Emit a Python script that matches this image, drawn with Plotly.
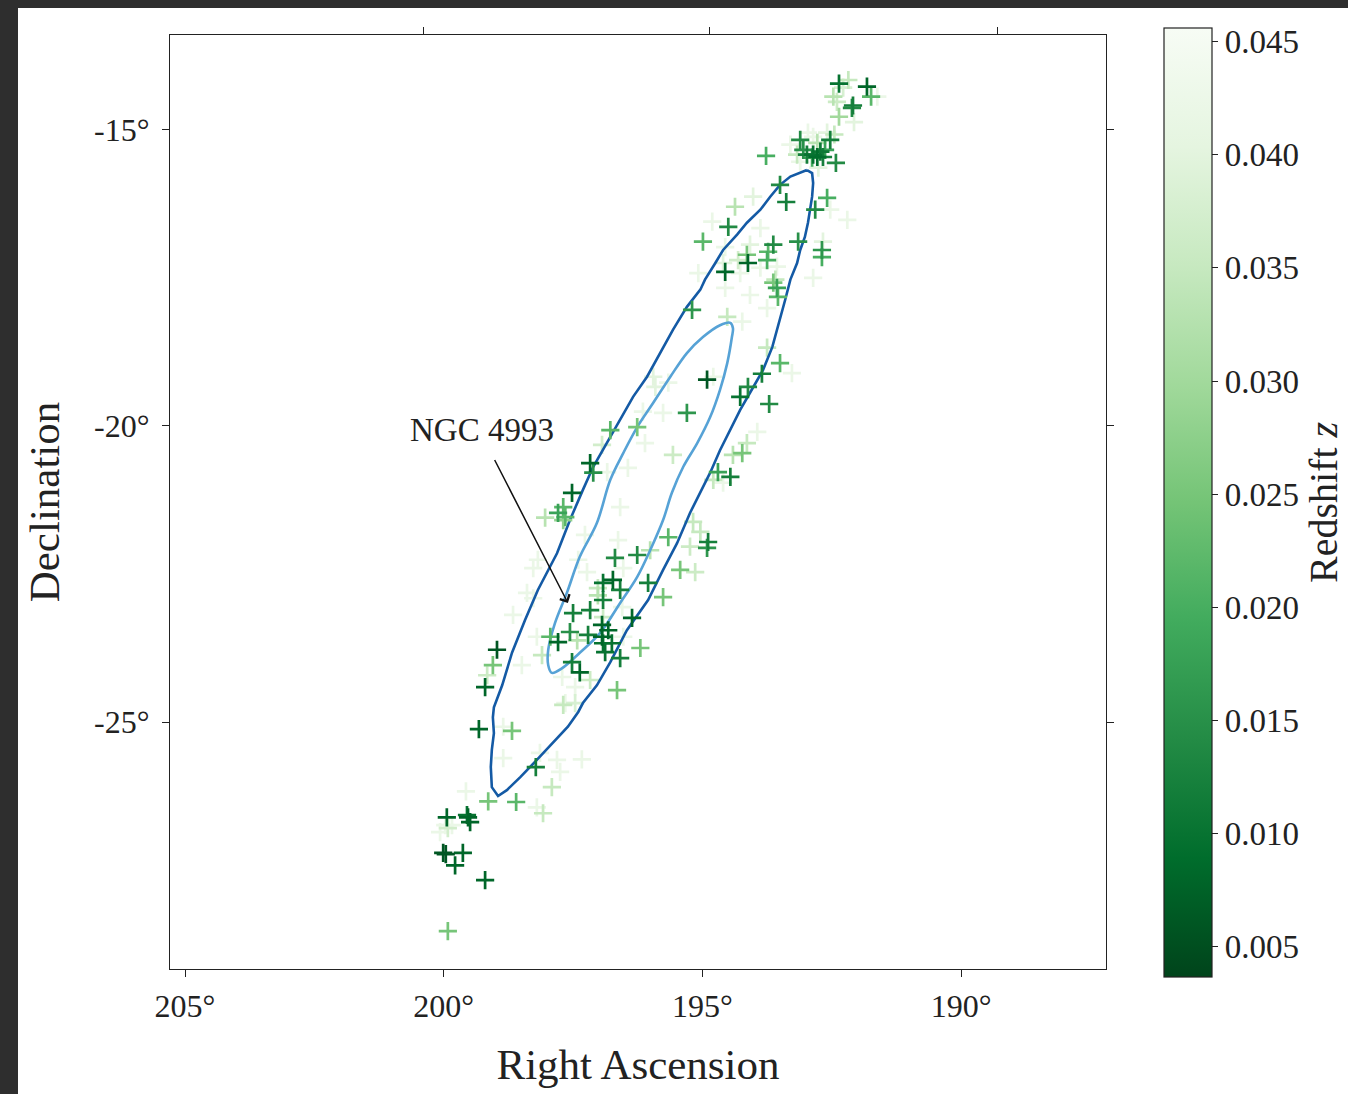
import numpy as np
import plotly.graph_objects as go

# ---- galaxy catalogue (RA deg, Dec deg, redshift) ----
ra = [192.36, 192.18, 192.28, 191.82, 191.74, 191.62, 192.47, 192.40, 192.09, 192.11,
      192.36, 192.07, 192.45, 193.11, 192.78, 192.96, 192.86, 192.59, 192.53, 193.30,
      193.05, 192.98, 192.86, 192.72, 192.67, 192.78, 192.63, 192.42, 192.88, 193.17,
      193.11, 192.76, 193.77, 193.50, 193.38, 194.02, 194.37, 192.59, 192.82, 192.53,
      192.20, 194.81, 194.50, 194.99, 194.56, 194.08, 193.88, 193.63, 193.15, 192.69,
      192.67, 192.69, 194.14, 194.12, 193.75, 193.73, 194.31, 194.27, 193.88, 193.59,
      194.56, 195.08, 192.86, 193.56, 194.60, 195.20, 194.52, 194.23, 193.63, 193.56,
      193.54, 194.56, 194.08, 193.75, 193.75, 193.50, 193.27, 193.85, 194.12, 194.27,
      193.71, 194.91, 194.79, 195.95, 195.91, 195.66, 195.30, 196.15, 195.76, 196.78,
      196.26, 196.11, 196.94, 193.94, 194.14, 194.23, 194.41, 195.57, 196.44, 197.17,
      197.11, 196.84, 197.52, 194.70, 194.46, 194.79, 194.60, 197.69, 198.04, 197.79,
      197.65, 197.69, 196.59, 197.27, 196.63, 195.66, 195.18, 195.04, 194.89, 194.91,
      195.24, 196.01, 196.26, 196.69, 197.40, 196.53, 197.23, 195.43, 195.14, 198.27,
      198.18, 196.73, 196.92, 197.02, 196.59, 196.05, 195.76, 196.92, 197.02, 198.39,
      198.27, 197.50, 197.17, 198.66, 196.92, 196.36, 196.55, 197.56, 197.21, 196.94,
      196.82, 197.42, 197.79, 197.94, 196.94, 196.92, 196.75, 196.88, 196.59, 196.20,
      196.53, 198.20, 198.49, 198.10, 198.97, 199.05, 199.16, 199.20, 197.52, 197.37,
      197.17, 197.71, 197.46, 196.65, 197.65, 199.32, 198.68, 198.85, 198.85, 197.69,
      197.46, 198.22, 198.14, 197.81, 197.33, 197.75, 197.91, 199.57, 199.14, 198.60,
      198.20, 198.08, 199.94, 199.53, 199.49, 199.55, 199.97, 199.84, 200.07, 199.92,
      200.01, 199.96, 199.63, 199.78, 199.20, 199.92]
dec = [-14.22, -14.16, -14.29, -14.27, -14.44, -14.44, -14.44, -14.53, -14.59, -14.63,
       -14.78, -14.87, -15.08, -15.17, -15.22, -15.05, -15.12, -15.05, -15.17, -15.25,
       -15.34, -15.42, -15.42, -15.37, -15.46, -15.46, -15.34, -15.56, -15.47, -15.42,
       -15.54, -15.64, -15.44, -15.93, -16.22, -16.13, -16.30, -16.15, -16.35, -16.35,
       -16.52, -16.55, -16.64, -16.89, -16.98, -16.94, -16.66, -16.94, -16.89, -17.03,
       -16.89, -17.15, -17.11, -17.25, -17.20, -17.06, -17.20, -17.42, -17.33, -17.53,
       -17.40, -17.42, -17.50, -17.31, -17.25, -18.04, -18.16, -18.24, -17.58, -17.67,
       -17.82, -17.67, -17.79, -18.01, -18.68, -18.94, -19.11, -19.12, -19.34, -19.51,
       -19.63, -19.22, -19.17, -19.17, -19.34, -19.27, -19.78, -19.76, -19.78, -20.07,
       -20.02, -20.29, -20.32, -20.10, -20.29, -20.46, -20.49, -20.49, -20.71, -20.63,
       -20.79, -20.78, -21.13, -20.78, -20.86, -20.91, -20.96, -21.37, -21.55, -21.47,
       -21.54, -21.59, -21.37, -21.84, -21.93, -21.88, -21.62, -21.79, -21.96, -22.06,
       -22.04, -22.10, -22.18, -22.23, -22.26, -22.40, -22.47, -22.43, -22.47, -22.40,
       -22.26, -22.60, -22.65, -22.74, -22.77, -22.65, -22.89, -22.94, -22.86, -22.82,
       -22.91, -23.16, -23.11, -23.19, -23.23, -23.24, -23.06, -23.48, -23.53, -23.36,
       -23.45, -23.62, -23.65, -23.56, -23.56, -23.67, -23.67, -23.82, -23.92, -23.75,
       -23.56, -23.56, -24.04, -23.87, -23.78, -24.04, -24.21, -24.41, -23.99, -24.16,
       -24.29, -24.24, -24.41, -24.46, -24.68, -25.12, -25.15, -25.08, -25.61, -24.71,
       -24.68, -25.76, -25.52, -25.64, -25.63, -25.84, -26.10, -26.17, -26.34, -26.35,
       -26.44, -26.54, -26.61, -26.61, -26.69, -26.57, -26.74, -26.74, -26.86, -26.79,
       -27.21, -27.23, -27.21, -27.42, -27.67, -28.53]
redshift = [0.010, 0.035, 0.038, 0.008, 0.022, 0.042, 0.033, 0.036, 0.012, 0.014,
            0.030, 0.040, 0.035, 0.014, 0.033, 0.042, 0.042, 0.040, 0.012, 0.042,
            0.015, 0.012, 0.010, 0.011, 0.012, 0.009, 0.018, 0.014, 0.020, 0.035,
            0.042, 0.040, 0.020, 0.014, 0.012, 0.040, 0.033, 0.020, 0.014, 0.042,
            0.042, 0.042, 0.014, 0.022, 0.042, 0.040, 0.042, 0.014, 0.015, 0.016,
            0.040, 0.020, 0.025, 0.008, 0.020, 0.022, 0.037, 0.042, 0.042, 0.035,
            0.008, 0.042, 0.042, 0.042, 0.040, 0.016, 0.035, 0.042, 0.025, 0.018,
            0.022, 0.042, 0.042, 0.042, 0.035, 0.022, 0.042, 0.012, 0.014, 0.010,
            0.014, 0.006, 0.042, 0.040, 0.040, 0.042, 0.016, 0.042, 0.042, 0.022,
            0.025, 0.042, 0.037, 0.042, 0.035, 0.025, 0.033, 0.036, 0.042, 0.008,
            0.015, 0.042, 0.008, 0.018, 0.012, 0.035, 0.042, 0.022, 0.033, 0.018,
            0.022, 0.028, 0.042, 0.042, 0.042, 0.022, 0.035, 0.035, 0.012, 0.016,
            0.036, 0.033, 0.014, 0.014, 0.042, 0.042, 0.042, 0.025, 0.036, 0.042,
            0.042, 0.008, 0.010, 0.035, 0.012, 0.012, 0.025, 0.012, 0.033, 0.042,
            0.042, 0.012, 0.012, 0.042, 0.036, 0.008, 0.042, 0.015, 0.012, 0.008,
            0.008, 0.033, 0.008, 0.022, 0.008, 0.010, 0.010, 0.010, 0.012, 0.025,
            0.042, 0.042, 0.042, 0.035, 0.006, 0.025, 0.036, 0.008, 0.012, 0.008,
            0.036, 0.042, 0.042, 0.025, 0.042, 0.008, 0.025, 0.042, 0.042, 0.035,
            0.038, 0.012, 0.042, 0.042, 0.042, 0.042, 0.035, 0.042, 0.025, 0.022,
            0.042, 0.035, 0.008, 0.008, 0.008, 0.010, 0.042, 0.042, 0.042, 0.037,
            0.006, 0.006, 0.008, 0.008, 0.008, 0.025]

# ---- localisation contours (RA, Dec) ----
outer_ra = [192.98, 193.30, 193.50, 193.69, 193.88, 194.14, 194.33, 194.60, 194.75, 194.95,
            195.04, 195.30, 195.57, 195.82, 196.07, 196.34, 196.59, 196.84, 197.11, 197.31,
            197.56, 197.81, 198.18, 198.43, 198.68, 198.87, 199.03, 199.05, 199.03, 199.07,
            199.09, 199.07, 198.95, 198.78, 198.52, 198.20, 197.89, 197.60, 197.40, 197.31,
            197.04, 196.78, 196.46, 196.05, 195.76, 195.49, 195.24, 195.01, 194.85, 194.66,
            194.46, 194.27, 194.08, 193.83, 193.65, 193.54, 193.40, 193.30, 193.17, 193.11,
            193.02, 192.96, 192.92, 192.88, 192.86, 192.88, 192.98]
outer_dec = [-15.68, -15.79, -15.93, -16.13, -16.35, -16.57, -16.77, -17.03, -17.25, -17.53,
             -17.70, -17.99, -18.38, -18.77, -19.17, -19.51, -19.90, -20.29, -20.69, -21.08,
             -21.59, -22.15, -22.77, -23.28, -23.83, -24.38, -24.75, -24.92, -25.19, -25.47,
             -25.76, -26.10, -26.25, -26.15, -25.93, -25.64, -25.35, -25.08, -24.83, -24.68,
             -24.38, -23.99, -23.45, -22.94, -22.43, -21.98, -21.47, -21.08, -20.79, -20.41,
             -20.07, -19.73, -19.44, -19.06, -18.67, -18.33, -17.87, -17.53, -17.25, -17.03,
             -16.81, -16.57, -16.35, -16.13, -15.90, -15.73, -15.68]
inner_ra = [194.46, 194.66, 194.99, 195.30, 195.62, 195.95, 196.26, 196.53, 196.78, 197.04,
            197.37, 197.62, 197.85, 197.98, 197.98, 197.91, 197.71, 197.37, 196.98, 196.59,
            196.26, 196.01, 195.76, 195.59, 195.37, 195.10, 194.85, 194.66, 194.52, 194.43,
            194.41, 194.46]
inner_dec = [-18.26, -18.30, -18.50, -18.77, -19.17, -19.61, -20.02, -20.46, -20.91, -21.64,
             -22.21, -22.82, -23.33, -23.78, -24.04, -24.17, -24.09, -23.83, -23.50, -22.99,
             -22.55, -22.10, -21.59, -21.13, -20.69, -20.29, -19.85, -19.39, -18.94, -18.50,
             -18.35, -18.26]

# ---- axes / labels ----
x_range = [205.29, 187.20]
y_range = [-29.17, -13.40]
x_ticks = [205, 200, 195, 190]
x_ticktext = ["205°", "200°", "195°", "190°"]
x_top_ticks = [200.40, 194.87, 189.30]
y_ticks = [-15, -20, -25]
y_ticktext = ["-15°", "-20°", "-25°"]
cbar_ticks = [0.005, 0.010, 0.015, 0.020, 0.025, 0.030, 0.035, 0.040, 0.045]
z_min, z_max = 0.00367, 0.0456
light_split = 0.03
label_name = "NGC 4993"
label_pos = (199.26, -20.07)
arrow_tail = (199.03, -20.55)
arrow_head = (197.60, -22.99)

FONT = "Liberation Serif"
greens_r = [[0.0, "rgb(0,68,27)"], [0.125, "rgb(0,109,44)"], [0.25, "rgb(35,139,69)"],
            [0.375, "rgb(65,171,93)"], [0.5, "rgb(116,196,118)"], [0.625, "rgb(161,217,155)"],
            [0.75, "rgb(199,233,192)"], [0.875, "rgb(229,245,224)"], [1.0, "rgb(247,252,245)"]]

ra_a = np.array(ra)
dec_a = np.array(dec)
z_a = np.array(redshift)
order = np.argsort(-z_a, kind="stable")
ra_a, dec_a, z_a = ra_a[order], dec_a[order], z_a[order]
light = z_a >= light_split
dark = ~light


def marker(zv, with_bar):
    m = dict(symbol="cross-thin", size=13,
             color=zv, colorscale=greens_r, cmin=z_min, cmax=z_max,
             line=dict(width=2.7, color=zv, colorscale=greens_r, cmin=z_min, cmax=z_max))
    if with_bar:
        m["showscale"] = True
        m["colorbar"] = dict(
            x=1.062, xanchor="left", xpad=0, y=0.4995, yanchor="middle", ypad=0,
            len=1.016, lenmode="fraction", thickness=48, thicknessmode="pixels",
            outlinewidth=1.2, outlinecolor="#222",
            tickvals=cbar_ticks, tickformat=".3f", ticks="outside", ticklen=6,
            tickwidth=1.2, tickcolor="#222",
            tickfont=dict(family=FONT, size=33, color="#222"),
            title=dict(text="Redshift <i>z</i>", side="right",
                       font=dict(family=FONT, size=40, color="#222")),
        )
    else:
        m["showscale"] = False
    return m


fig = go.Figure()
fig.add_trace(go.Scatter(x=ra_a[light], y=dec_a[light], mode="markers", showlegend=False,
                         marker=marker(z_a[light], False)))
fig.add_trace(go.Scatter(
    x=outer_ra, y=outer_dec, mode="lines",
    line=dict(color="#145aa5", width=2.6), hoverinfo="skip", showlegend=False))
fig.add_trace(go.Scatter(
    x=inner_ra, y=inner_dec, mode="lines",
    line=dict(color="#56a2d6", width=2.6, shape="spline"), hoverinfo="skip", showlegend=False))
fig.add_trace(go.Scatter(x=ra_a[dark], y=dec_a[dark], mode="markers", showlegend=False,
                         marker=marker(z_a[dark], True)))
fig.add_trace(go.Scatter(x=[], y=[], xaxis="x2", showlegend=False, hoverinfo="skip"))

fig.add_annotation(x=label_pos[0], y=label_pos[1], xref="x", yref="y", text=label_name,
                   showarrow=False, font=dict(family=FONT, size=33, color="#222"))
fig.add_annotation(x=arrow_head[0], y=arrow_head[1], ax=arrow_tail[0], ay=arrow_tail[1],
                   xref="x", yref="y", axref="x", ayref="y", text="", showarrow=True,
                   arrowhead=4, arrowsize=1.4, arrowwidth=1.5, arrowcolor="#111")

# screenshot frame strips
fig.add_shape(type="rect", xref="paper", yref="paper", x0=-0.19, x1=-0.1624, y0=-0.2, y1=1.1,
              fillcolor="#2e2e2e", line=dict(width=0), layer="above")
fig.add_shape(type="rect", xref="paper", yref="paper", x0=-0.19, x1=1.3, y0=1.0289, y1=1.1,
              fillcolor="#2e2e2e", line=dict(width=0), layer="above")

axis_common = dict(showgrid=False, zeroline=False, showline=True, linecolor="#222", linewidth=1.3,
                   ticks="outside", ticklen=7, tickwidth=1.3, tickcolor="#222",
                   tickfont=dict(family=FONT, size=32, color="#222"))
fig.update_layout(
    width=1348, height=1094,
    margin=dict(l=170, r=242, t=35, b=125, autoexpand=False),
    paper_bgcolor="white", plot_bgcolor="white",
    xaxis=dict(range=x_range, tickvals=x_ticks, ticktext=x_ticktext, mirror=True,
               ticklabelstandoff=1,
               title=dict(text="Right Ascension", font=dict(family=FONT, size=43, color="#222"),
                          standoff=26),
               **axis_common),
    xaxis2=dict(range=x_range, overlaying="x", side="top", tickvals=x_top_ticks,
                showticklabels=False, showgrid=False, zeroline=False, showline=False,
                ticks="outside", ticklen=7, tickwidth=1.3, tickcolor="#222"),
    yaxis=dict(range=y_range, tickvals=y_ticks, ticktext=y_ticktext, mirror="ticks",
               ticklabelstandoff=6,
               title=dict(text="Declination", font=dict(family=FONT, size=43, color="#222"),
                          standoff=20),
               **axis_common),
)

fig.write_html("out.html")
